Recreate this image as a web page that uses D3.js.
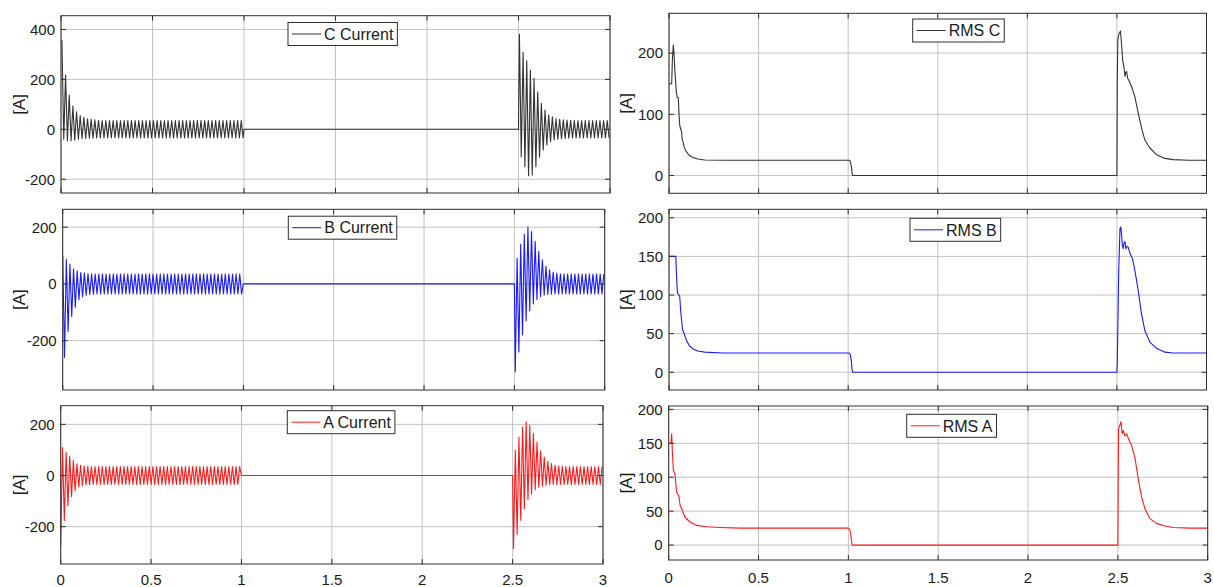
<!DOCTYPE html>
<html>
<head>
<meta charset="utf-8">
<script src="https://cdn.jsdelivr.net/npm/d3@7"></script>
<style>
  body { margin: 0; background: #fff; }
  svg { display: block; font-family: "Liberation Sans", Arial, Helvetica, sans-serif; }
</style>
</head>
<body>
<svg id="chart" width="1214" height="587"></svg>
<script>
// ---- data ----
const xTicks = [0, 0.5, 1, 1.5, 2, 2.5, 3];
const halfCycle = 0.01; // 50 Hz: one extremum every 10 ms

const ticksCurrentC = [-200, 0, 200, 400];
const ticksCurrentAB = [-200, 0, 200];
const ticksRmsC = [0, 100, 200];
const ticksRmsAB = [0, 50, 100, 150, 200];

// extrema of each current, alternating sign, one per half cycle
const peaksC1 = [
  357, -40, 217, -46, 137, -46, 93, -44, 70, -40,
  55, -38, 48, -37, 42, -36, 40, -36, 38, -35,
  36, -35, 35, -35, 35, -35, 35, -35, 35, -35,
  35, -35, 35, -35, 35, -35, 35, -35, 35, -35,
  35, -35, 35, -35, 35, -35, 35, -35, 35, -35,
  35, -35, 35, -35, 35, -35, 35, -35, 35, -35,
  35, -35, 35, -35, 35, -35, 35, -35, 35, -35,
  35, -35, 35, -35, 35, -35, 35, -35, 35, -35,
  35, -35, 35, -35, 35, -35, 35, -35, 35, -35,
  35, -35, 35, -35, 35, -35, 35, -35, 35, -35
];
const peaksC2 = [
  381, -110, 308, -150, 274, -186, 237, -183, 204, -150,
  150, -112, 104, -83, 77, -63, 57, -50, 50, -43,
  42, -40, 40, -38, 38, -37, 37, -36, 36, -35,
  35, -35, 35, -35, 35, -35, 35, -35, 35, -35,
  35, -35, 35, -35, 35, -35, 35, -35, 35, -35
];
const peaksB1 = [
  100, -259, 87, -168, 70, -115, 53, -82, 46, -56,
  40, -45, 38, -40, 36, -37, 35, -36, 35, -35,
  35, -35, 35, -35, 35, -35, 35, -35, 35, -35,
  35, -35, 35, -35, 35, -35, 35, -35, 35, -35,
  35, -35, 35, -35, 35, -35, 35, -35, 35, -35,
  35, -35, 35, -35, 35, -35, 35, -35, 35, -35,
  35, -35, 35, -35, 35, -35, 35, -35, 35, -35,
  35, -35, 35, -35, 35, -35, 35, -35, 35, -35,
  35, -35, 35, -35, 35, -35, 35, -35, 35, -35,
  35, -35, 35, -35, 35, -35, 35, -35, 35, -35
];
const peaksB2 = [
  -310, 90, -240, 140, -180, 175, -130, 200, -95, 185,
  -70, 150, -55, 115, -45, 85, -40, 62, -37, 50,
  -36, 42, -35, 38, -35, 36, -35, 35, -35, 35,
  -35, 35, -35, 35, -35, 35, -35, 35, -35, 35,
  -35, 35, -35, 35, -35, 35, -35, 35, -35, 35
];
const peaksA1 = [
  -277, 109, -176, 91, -117, 74, -82, 59, -59, 46,
  -45, 40, -40, 37, -37, 36, -36, 35, -35, 35,
  -35, 35, -35, 35, -35, 35, -35, 35, -35, 35,
  -35, 35, -35, 35, -35, 35, -35, 35, -35, 35,
  -35, 35, -35, 35, -35, 35, -35, 35, -35, 35,
  -35, 35, -35, 35, -35, 35, -35, 35, -35, 35,
  -35, 35, -35, 35, -35, 35, -35, 35, -35, 35,
  -35, 35, -35, 35, -35, 35, -35, 35, -35, 35,
  -35, 35, -35, 35, -35, 35, -35, 35, -35, 35,
  -35, 35, -35, 35, -35, 35, -35, 35, -35, 35
];
const peaksA2 = [
  -285, 100, -230, 150, -175, 190, -130, 210, -95, 195,
  -72, 165, -56, 130, -47, 97, -42, 72, -38, 56,
  -36, 47, -35, 41, -35, 38, -35, 36, -35, 35,
  -35, 35, -35, 35, -35, 35, -35, 35, -35, 35,
  -35, 35, -35, 35, -35, 35, -35, 35, -35, 35
];
// start time of first extremum in each energised interval
const startC = [0.005, 2.505];
const startB = [0.0, 2.505];
const startA = [0.0, 2.505];
const offInterval = [1.0, 2.5];

// RMS traces as [time, value]
const rmsC = [
  [0, 150], [0.015, 150], [0.019, 190], [0.024, 213], [0.028, 200], [0.033, 170],
  [0.04, 140], [0.045, 128], [0.052, 127], [0.056, 100], [0.06, 82], [0.065, 76],
  [0.07, 72], [0.074, 58], [0.079, 55], [0.085, 46], [0.095, 40], [0.11, 34],
  [0.13, 30], [0.16, 27], [0.2, 25.5], [0.3, 25], [1.005, 25], [1.012, 23],
  [1.018, 14], [1.022, 3], [1.025, 0], [2.5, 0], [2.502, 150], [2.505, 222],
  [2.512, 232], [2.52, 236], [2.526, 214], [2.532, 189], [2.535, 184], [2.539, 178],
  [2.545, 162], [2.549, 168], [2.554, 170], [2.56, 159], [2.569, 154], [2.582, 145],
  [2.6, 129], [2.619, 102], [2.638, 77], [2.656, 58], [2.684, 45], [2.721, 34],
  [2.768, 28], [2.814, 26], [2.9, 25], [3, 25]
];
const rmsB = [
  [0, 150], [0.038, 150], [0.042, 125], [0.047, 103], [0.055, 100], [0.06, 98],
  [0.065, 80], [0.07, 68], [0.076, 55], [0.085, 50], [0.09, 46], [0.1, 40],
  [0.115, 34], [0.135, 30], [0.16, 27.5], [0.2, 26], [0.3, 25], [1.005, 25],
  [1.012, 23], [1.018, 14], [1.022, 3], [1.025, 0], [2.5, 0], [2.502, 10],
  [2.504, 41], [2.51, 130], [2.517, 186], [2.522, 188], [2.526, 178], [2.53, 165],
  [2.535, 160], [2.54, 168], [2.545, 169], [2.55, 160], [2.556, 163], [2.563, 162],
  [2.573, 154], [2.587, 147], [2.6, 132], [2.619, 106], [2.637, 76], [2.656, 54],
  [2.684, 39], [2.721, 31], [2.768, 26], [2.814, 25], [3, 25]
];
const rmsA = [
  [0.01, 150], [0.013, 152], [0.0165, 164], [0.02, 140], [0.026, 110], [0.035, 105],
  [0.044, 78], [0.057, 72], [0.063, 59], [0.076, 51], [0.091, 41], [0.118, 34],
  [0.156, 29], [0.211, 27], [0.285, 26], [0.4, 25], [1.0, 25], [1.008, 23],
  [1.014, 14], [1.019, 3], [1.022, 0], [2.5, 0], [2.502, 100], [2.504, 171],
  [2.517, 182], [2.524, 164], [2.53, 169], [2.539, 161], [2.549, 164], [2.563, 154],
  [2.576, 147], [2.595, 129], [2.613, 98], [2.632, 71], [2.65, 54], [2.678, 39],
  [2.715, 32], [2.761, 28], [2.808, 26], [2.9, 25], [3, 25]
];

(() => {
  const svg = d3.select("#chart");
  const defs = svg.append("defs");

  // turn extrema lists into [time, value] points, flat while de-energised
  function currentPoints(starts, seg1, seg2) {
    const pts = seg1.map((v, i) => [starts[0] + i * halfCycle, v]);
    pts.push([offInterval[0], 0], [offInterval[1], 0]);
    seg2.forEach((v, i) => pts.push([starts[1] + i * halfCycle, v]));
    return pts;
  }

  const panels = [
    { box: [61, 15.7, 610, 193], yDomain: [-255, 455], yTicks: ticksCurrentC,
      data: currentPoints(startC, peaksC1, peaksC2), color: "#333333",
      label: "C Current", legend: [288, 22.5], yLabelX: 19, xLabelY: 0 },
    { box: [62.7, 209.3, 604.7, 390], yDomain: [-374, 263], yTicks: ticksCurrentAB,
      data: currentPoints(startB, peaksB1, peaksB2), color: "#1a1aff",
      label: "B Current", legend: [288.3, 216.2], yLabelX: 19, xLabelY: 0 },
    { box: [60.7, 405.7, 603, 564], yDomain: [-346, 273], yTicks: ticksCurrentAB,
      data: currentPoints(startA, peaksA1, peaksA2), color: "#ff1a1a",
      label: "A Current", legend: [287.3, 410.7], yLabelX: 19, xLabelY: 585 },
    { box: [669, 13.3, 1206.5, 193.3], yDomain: [-29, 265], yTicks: ticksRmsC,
      data: rmsC, color: "#333333",
      label: "RMS C", legend: [912.7, 19], yLabelX: 626, xLabelY: 0 },
    { box: [669, 209.3, 1206.5, 390], yDomain: [-23, 211], yTicks: ticksRmsAB,
      data: rmsB, color: "#1a1aff",
      label: "RMS B", legend: [910, 218.3], yLabelX: 626, xLabelY: 0 },
    { box: [668.7, 406, 1207.7, 560], yDomain: [-22, 205], yTicks: ticksRmsAB,
      data: rmsA, color: "#ff1a1a",
      label: "RMS A", legend: [906.7, 414.3], yLabelX: 626, xLabelY: 583 }
  ];

  const frameColor = "#2e2e2e";
  const gridColor = "#c2c2c2";
  const tickLen = 5;

  panels.forEach((p, idx) => {
    const [left, top, right, bottom] = p.box;
    const x = d3.scaleLinear().domain([0, 3]).range([left, right]);
    const y = d3.scaleLinear().domain(p.yDomain).range([bottom, top]);
    const g = svg.append("g");

    defs.append("clipPath").attr("id", `clip${idx}`)
      .append("rect")
      .attr("x", left).attr("y", top)
      .attr("width", right - left).attr("height", bottom - top);

    // grid
    g.selectAll("line.gx").data(xTicks).enter().append("line")
      .attr("x1", d => x(d)).attr("x2", d => x(d))
      .attr("y1", top).attr("y2", bottom)
      .attr("stroke", gridColor).attr("stroke-width", 1);
    g.selectAll("line.gy").data(p.yTicks).enter().append("line")
      .attr("x1", left).attr("x2", right)
      .attr("y1", d => y(d)).attr("y2", d => y(d))
      .attr("stroke", gridColor).attr("stroke-width", 1);

    // trace
    const line = d3.line().x(d => x(d[0])).y(d => y(d[1]));
    g.append("path")
      .datum(p.data)
      .attr("clip-path", `url(#clip${idx})`)
      .attr("fill", "none")
      .attr("stroke", p.color)
      .attr("stroke-width", 1.1)
      .attr("stroke-linejoin", "round")
      .attr("d", line);

    // inward ticks on all four sides
    const ticks = g.append("g").attr("stroke", frameColor).attr("stroke-width", 1);
    xTicks.forEach(t => {
      ticks.append("line").attr("x1", x(t)).attr("x2", x(t)).attr("y1", bottom).attr("y2", bottom - tickLen);
      ticks.append("line").attr("x1", x(t)).attr("x2", x(t)).attr("y1", top).attr("y2", top + tickLen);
    });
    p.yTicks.forEach(t => {
      ticks.append("line").attr("x1", left).attr("x2", left + tickLen).attr("y1", y(t)).attr("y2", y(t));
      ticks.append("line").attr("x1", right).attr("x2", right - tickLen).attr("y1", y(t)).attr("y2", y(t));
    });

    // frame
    g.append("rect")
      .attr("x", left).attr("y", top)
      .attr("width", right - left).attr("height", bottom - top)
      .attr("fill", "none").attr("stroke", frameColor).attr("stroke-width", 1);

    // y tick labels
    g.selectAll("text.yt").data(p.yTicks).enter().append("text")
      .attr("x", left - 6).attr("y", d => y(d)).attr("dy", "0.36em")
      .attr("text-anchor", "end").attr("font-size", 15).attr("fill", "#1a1a1a")
      .text(d => String(d));

    // x tick labels on the bottom row
    if (p.xLabelY) {
      g.selectAll("text.xt").data(xTicks).enter().append("text")
        .attr("x", d => x(d)).attr("y", p.xLabelY)
        .attr("text-anchor", "middle").attr("font-size", 15).attr("fill", "#1a1a1a")
        .text(d => String(d));
    }

    // y label
    g.append("text")
      .attr("transform", `translate(${p.yLabelX},${(top + bottom) / 2}) rotate(-90)`)
      .attr("dy", "0.36em")
      .attr("text-anchor", "middle").attr("font-size", 17).attr("fill", "#1a1a1a")
      .text("[A]");

    // legend
    const [lx, ly] = p.legend;
    const lh = 23;
    const lg = g.append("g");
    const box = lg.append("rect")
      .attr("x", lx).attr("y", ly).attr("height", lh)
      .attr("fill", "#fff").attr("stroke", frameColor).attr("stroke-width", 1);
    lg.append("line")
      .attr("x1", lx + 4).attr("x2", lx + 33)
      .attr("y1", ly + lh / 2).attr("y2", ly + lh / 2)
      .attr("stroke", p.color).attr("stroke-width", 1);
    const txt = lg.append("text")
      .attr("x", lx + 36).attr("y", ly + lh / 2).attr("dy", "0.36em")
      .attr("font-size", 16).attr("fill", "#1a1a1a")
      .text(p.label);
    box.attr("width", 36 + txt.node().getComputedTextLength() + 4);
  });
})();
</script>
</body>
</html>
